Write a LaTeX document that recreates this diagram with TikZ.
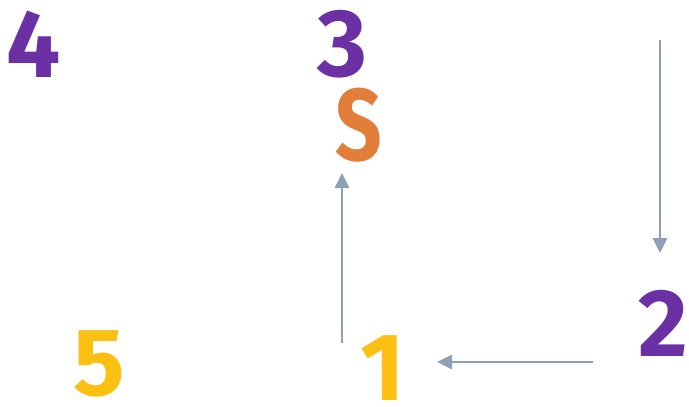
\documentclass[tikz,border=0pt]{standalone}
\usepackage{fontspec}
\setmainfont{Fira Sans}
\usetikzlibrary{arrows.meta}
\definecolor{numpurple}{HTML}{6A30A4}
\definecolor{numorange}{HTML}{E27D3A}
\definecolor{numyellow}{HTML}{FCC013}
\definecolor{arrowgray}{HTML}{8FA0B3}
\tikzset{
  digit/.style={inner sep=0pt, anchor=base, font=\fontsize{96}{96}\selectfont\bfseries},
  conn/.style={draw=arrowgray, line width=2.6pt, -{Triangle[length=15pt,width=14pt]}}
}
\begin{document}
\begin{tikzpicture}[x=1pt,y=-1pt]
\useasboundingbox (0,0) rectangle (689,407);
\node[digit, text=numpurple] (n4) at (34,77) {4};
\node[digit, text=numpurple] (n3) at (342,76) {3};
\node[digit, text=numorange, xscale=0.8, font=\fontsize{102}{102}\selectfont\bfseries] (s) at (359,160) {S};
\node[digit, text=numpurple] (n2) at (663,356) {2};
\node[digit, text=numyellow] (n1) at (383,400) {1};
\node[digit, text=numyellow] (n5) at (99,395) {5};
\coordinate (a1) at (342,343);
\coordinate (a2) at (342,173);
\coordinate (b1) at (660,40);
\coordinate (b2) at (660,253);
\coordinate (c1) at (593,362);
\coordinate (c2) at (437,362);
\draw[conn] (a1) -- (a2);
\draw[conn] (b1) -- (b2);
\draw[conn] (c1) -- (c2);
\end{tikzpicture}
\end{document}
